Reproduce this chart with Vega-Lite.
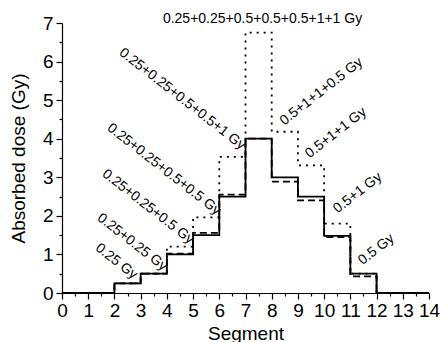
{
  "$schema": "https://vega.github.io/schema/vega-lite/v6.json",
  "width": 367,
  "height": 270,
  "autosize": "none",
  "padding": {"left": 62, "top": 23, "right": 12, "bottom": 49},
  "config": {
    "view": {"stroke": null},
    "font": "Liberation Sans",
    "axis": {"grid": false, "domainColor": "black", "tickColor": "black", "labelColor": "black", "titleColor": "black", "labelFont": "Liberation Sans", "titleFont": "Liberation Sans", "labelFontSize": 19, "titleFontSize": 19, "titleFontWeight": "normal", "domainWidth": 1.2, "tickWidth": 1.2}
  },
  "datasets": {
    "steps": [
      {"seg": 0, "dose": 0, "series": "dotted"}, {"seg": 1, "dose": 0, "series": "dotted"}, {"seg": 2, "dose": 0.25, "series": "dotted"}, {"seg": 3, "dose": 0.5, "series": "dotted"}, {"seg": 4, "dose": 1.2, "series": "dotted"}, {"seg": 5, "dose": 1.96, "series": "dotted"}, {"seg": 6, "dose": 3.53, "series": "dotted"}, {"seg": 7, "dose": 6.75, "series": "dotted"}, {"seg": 8, "dose": 4.18, "series": "dotted"}, {"seg": 9, "dose": 3.31, "series": "dotted"}, {"seg": 10, "dose": 1.8, "series": "dotted"}, {"seg": 11, "dose": 0.5, "series": "dotted"}, {"seg": 12, "dose": 0, "series": "dotted"}, {"seg": 13, "dose": 0, "series": "dotted"}, {"seg": 14, "dose": 0, "series": "dotted"},
      {"seg": 0, "dose": 0, "series": "solid"}, {"seg": 1, "dose": 0, "series": "solid"}, {"seg": 2, "dose": 0.25, "series": "solid"}, {"seg": 3, "dose": 0.5, "series": "solid"}, {"seg": 4, "dose": 1.0, "series": "solid"}, {"seg": 5, "dose": 1.5, "series": "solid"}, {"seg": 6, "dose": 2.5, "series": "solid"}, {"seg": 7, "dose": 4.0, "series": "solid"}, {"seg": 8, "dose": 3.0, "series": "solid"}, {"seg": 9, "dose": 2.5, "series": "solid"}, {"seg": 10, "dose": 1.48, "series": "solid"}, {"seg": 11, "dose": 0.5, "series": "solid"}, {"seg": 12, "dose": 0, "series": "solid"}, {"seg": 13, "dose": 0, "series": "solid"}, {"seg": 14, "dose": 0, "series": "solid"},
      {"seg": 0, "dose": 0, "series": "dashed"}, {"seg": 1, "dose": 0, "series": "dashed"}, {"seg": 2, "dose": 0.25, "series": "dashed"}, {"seg": 3, "dose": 0.5, "series": "dashed"}, {"seg": 4, "dose": 1.02, "series": "dashed"}, {"seg": 5, "dose": 1.56, "series": "dashed"}, {"seg": 6, "dose": 2.55, "series": "dashed"}, {"seg": 7, "dose": 4.0, "series": "dashed"}, {"seg": 8, "dose": 2.89, "series": "dashed"}, {"seg": 9, "dose": 2.4, "series": "dashed"}, {"seg": 10, "dose": 1.45, "series": "dashed"}, {"seg": 11, "dose": 0.43, "series": "dashed"}, {"seg": 12, "dose": 0, "series": "dashed"}, {"seg": 13, "dose": 0, "series": "dashed"}, {"seg": 14, "dose": 0, "series": "dashed"}
    ],
    "leftLabels": [
      {"seg": 1.34, "dose": 1.21, "label": "0.25 Gy"},
      {"seg": 1.41, "dose": 1.99, "label": "0.25+0.25 Gy"},
      {"seg": 1.6, "dose": 3.13, "label": "0.25+0.25+0.5 Gy"},
      {"seg": 1.79, "dose": 4.32, "label": "0.25+0.25+0.5+0.5 Gy"},
      {"seg": 2.25, "dose": 6.27, "label": "0.25+0.25+0.5+0.5+1 Gy"}
    ],
    "rightLabels": [
      {"seg": 8.38, "dose": 4.42, "label": "0.5+1+1+0.5 Gy"},
      {"seg": 9.35, "dose": 3.57, "label": "0.5+1+1 Gy"},
      {"seg": 10.42, "dose": 2.14, "label": "0.5+1 Gy"},
      {"seg": 11.37, "dose": 0.8, "label": "0.5 Gy"}
    ],
    "topLabel": [
      {"seg": 7.65, "dose": 7.0, "label": "0.25+0.25+0.5+0.5+0.5+1+1 Gy"}
    ]
  },
  "encoding": {
    "x": {"field": "seg", "type": "quantitative", "scale": {"domain": [0, 14], "nice": false}, "axis": {"title": "Segment", "values": [0, 0.5, 1, 1.5, 2, 2.5, 3, 3.5, 4, 4.5, 5, 5.5, 6, 6.5, 7, 7.5, 8, 8.5, 9, 9.5, 10, 10.5, 11, 11.5, 12, 12.5, 13, 13.5, 14], "labelExpr": "datum.value % 1 === 0 ? '' + datum.value : ''", "tickSize": {"condition": {"test": "datum.value % 1 !== 0", "value": 3}, "value": 6}, "labelPadding": 2, "labelFlush": false, "labelOverlap": false, "titlePadding": 4}},
    "y": {"field": "dose", "type": "quantitative", "scale": {"domain": [0, 7], "nice": false}, "axis": {"title": "Absorbed dose (Gy)", "values": [0, 0.5, 1, 1.5, 2, 2.5, 3, 3.5, 4, 4.5, 5, 5.5, 6, 6.5, 7], "labelExpr": "datum.value % 1 === 0 ? '' + datum.value : ''", "tickSize": {"condition": {"test": "datum.value % 1 !== 0", "value": 3}, "value": 6}, "labelPadding": 3, "labelFlush": false, "labelOverlap": false, "titlePadding": 14}}
  },
  "layer": [
    {
      "data": {"name": "steps"},
      "mark": {"type": "line", "interpolate": "step-after", "color": "black", "strokeWidth": 1.8},
      "encoding": {
        "detail": {"field": "series"},
        "strokeDash": {"field": "series", "type": "nominal", "scale": {"domain": ["solid", "dashed", "dotted"], "range": [[1, 0], [7, 4], [2, 5]]}, "legend": null}
      }
    },
    {
      "data": {"name": "leftLabels"},
      "mark": {"type": "text", "align": "left", "baseline": "middle", "angle": 38, "fontSize": 14, "color": "black"},
      "encoding": {"text": {"field": "label"}}
    },
    {
      "data": {"name": "rightLabels"},
      "mark": {"type": "text", "align": "left", "baseline": "middle", "angle": -38, "fontSize": 14, "color": "black"},
      "encoding": {"text": {"field": "label"}}
    },
    {
      "data": {"name": "topLabel"},
      "mark": {"type": "text", "align": "center", "baseline": "alphabetic", "fontSize": 14, "color": "black"},
      "encoding": {"text": {"field": "label"}}
    }
  ]
}
